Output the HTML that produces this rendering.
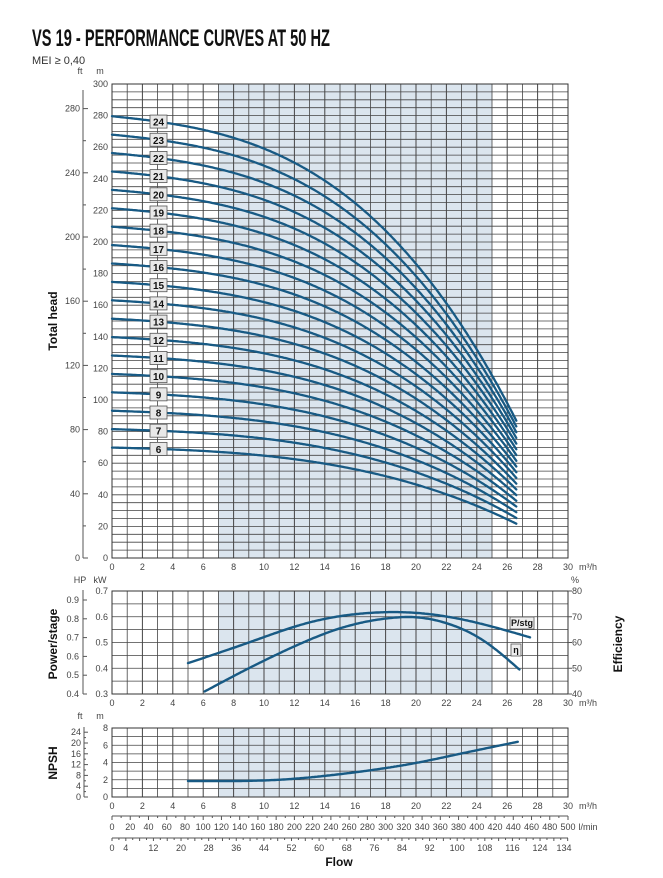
<!DOCTYPE html>
<html><head><meta charset="utf-8"><style>
body{margin:0;background:#fff;width:663px;height:878px;overflow:hidden;font-family:"Liberation Sans",sans-serif}
svg{position:absolute;left:0;top:0}
</style></head><body>
<svg id="s" width="663" height="878" viewBox="0 0 663 878" xmlns="http://www.w3.org/2000/svg" font-family="Liberation Sans, sans-serif">
<text x="32" y="46" font-size="24" font-weight="bold" fill="#111" transform="translate(32 0) scale(0.61 1) translate(-32 0)">VS 19 - PERFORMANCE CURVES AT 50 HZ</text>
<text x="32" y="64" font-size="11" fill="#333">MEI ≥ 0,40</text>
</svg>
<script>
const S=document.getElementById('s');const NS='http://www.w3.org/2000/svg';
function el(t,a,txt){const e=document.createElementNS(NS,t);for(const k in a)e.setAttribute(k,a[k]);if(txt!==undefined)e.textContent=txt;S.appendChild(e);return e;}
const X0=112,XW=456/30;const X=q=>X0+q*XW;
function grid(top,bot,rows){
 el('rect',{x:X(7),y:top,width:X(25)-X(7),height:bot-top,fill:'#dbe5ee'});
 for(let i=0;i<=30;i++)el('line',{x1:X(i),y1:top,x2:X(i),y2:bot,stroke:'#444','stroke-width':i%2?0.8:1});
 for(let j=0;j<=rows;j++){const y=top+(bot-top)*j/rows;el('line',{x1:X0,y1:y,x2:X(30),y2:y,stroke:'#444','stroke-width':0.8});}
 el('rect',{x:X0,y:top,width:456,height:bot-top,fill:'none',stroke:'#333','stroke-width':1});
}
function txt(x,y,s,o){o=o||{};return el('text',Object.assign({x:x,y:y,'font-size':9,fill:'#444','text-anchor':'middle'},o),s);}
function xlabels(y){for(let i=0;i<=30;i+=2)txt(X(i),y,i);txt(588,y,'m³/h',{'text-anchor':'middle'});}
function spline(pts){const n=pts.length,x=pts.map(p=>p[0]),y=pts.map(p=>p[1]);
 const h=[],al=[],l=[1],mu=[0],z=[0],b=[],d=[];
 for(let i=0;i<n-1;i++)h[i]=x[i+1]-x[i];
 for(let i=1;i<n-1;i++)al[i]=3/h[i]*(y[i+1]-y[i])-3/h[i-1]*(y[i]-y[i-1]);
 for(let i=1;i<n-1;i++){l[i]=2*(x[i+1]-x[i-1])-h[i-1]*mu[i-1];mu[i]=h[i]/l[i];z[i]=(al[i]-h[i-1]*z[i-1])/l[i];}
 const C=new Array(n).fill(0);for(let j=n-2;j>=1;j--)C[j]=z[j]-mu[j]*C[j+1];
 for(let j=0;j<n-1;j++){b[j]=(y[j+1]-y[j])/h[j]-h[j]*(C[j+1]+2*C[j])/3;d[j]=(C[j+1]-C[j])/(3*h[j]);}
 return q=>{let j=0;while(j<n-2&&q>x[j+1])j++;const t=q-x[j];return y[j]+b[j]*t+C[j]*t*t+d[j]*t*t*t;};}
function curve(f,q0,q1,fy,w){let d='';for(let q=q0;q<=q1+1e-6;q+=0.1){d+=(d?'L':'M')+X(q).toFixed(1)+' '+fy(f(q)).toFixed(1);}
 el('path',{d:d,fill:'none',stroke:'#185a84','stroke-width':w||2.4,'stroke-linecap':'round','stroke-linejoin':'round'});}
// MAIN
const MT=84,MB=558;grid(MT,MB,60);
const my=m=>MB-m*(MB-MT)/300;
for(let m=0;m<=300;m+=20)txt(108,my(m)+3,m,{'text-anchor':'end'});
el('line',{x1:83,y1:90,x2:83,y2:MB,stroke:'#555'});
for(let f=0;f<=280;f+=40){const y=MB-f*64.2/40;el('line',{x1:83,y1:y,x2:88,y2:y,stroke:'#555'});txt(80,y+3,f,{'text-anchor':'end'});}
for(let f=20;f<=280;f+=40){const y=MB-f*64.2/40;el('line',{x1:83,y1:y,x2:86,y2:y,stroke:'#555'});}
txt(80,74,'ft');txt(100,74,'m');xlabels(570);
el('text',{x:0,y:0,'font-size':12,'font-weight':'bold',fill:'#111','text-anchor':'middle',transform:'translate(57 321) rotate(-90)'},'Total head');
const hq=q=>11.65-(0.04*q+0.001341*q*q+0.0003197*q*q*q);
for(let n=6;n<=24;n++){
 const H=q=>n*hq(q);
 curve(H,0,26.6,my,2.3);
 const y=my(H(3));
 el('rect',{x:150,y:y-6.5,width:17,height:13,fill:'#e8e8e8',stroke:'#555','stroke-width':0.8});
 el('text',{x:158.5,y:y+4,'font-size':10,'font-weight':'bold',fill:'#111','text-anchor':'middle'},n);}
// POWER
const PT=591,PB=694;grid(PT,PB,8);
const py=k=>PB-(k-0.3)*(PB-PT)/0.4, ey=e=>PB-(e-40)*(PB-PT)/40;
for(let k=3;k<=7;k++)txt(108,py(k/10)+3,'0.'+k,{'text-anchor':'end'});
for(let e=40;e<=80;e+=10){txt(572,ey(e)+3,e,{'text-anchor':'start'});el('line',{x1:X(30),y1:ey(e),x2:X(30)+4,y2:ey(e),stroke:'#555'});}
txt(575,583,'%');txt(80,583,'HP');txt(100,583,'kW');
el('line',{x1:83,y1:590,x2:83,y2:694,stroke:'#555'});
for(let h=4;h<=9;h++){const y=694-(h-4)*18.8;el('line',{x1:83,y1:y,x2:87,y2:y,stroke:'#555'});txt(79,y+3,'0.'+h,{'text-anchor':'end'});}
el('text',{x:0,y:0,'font-size':12,'font-weight':'bold',fill:'#111','text-anchor':'middle',transform:'translate(57 644) rotate(-90)'},'Power/stage');
el('text',{x:0,y:0,'font-size':12,'font-weight':'bold',fill:'#111','text-anchor':'middle',transform:'translate(622 644) rotate(-90)'},'Efficiency');
xlabels(706);
curve(spline([[5,0.42],[9,0.5],[13,0.578],[17,0.615],[20,0.615],[23,0.59],[27.5,0.52]]),5,27.5,py);
curve(spline([[6.1,41],[9,50],[12,58.5],[15,65.5],[18,69.3],[20,69.8],[22,67.5],[24.5,60.5],[26.8,49.5]]),6.1,26.8,ey);
el('rect',{x:510,y:617,width:24,height:12,fill:'#eee',stroke:'#555','stroke-width':0.8});
el('text',{x:522,y:626,'font-size':9,'font-weight':'bold',fill:'#111','text-anchor':'middle'},'P/stg');
el('rect',{x:511,y:644,width:10,height:12,fill:'#eee',stroke:'#555','stroke-width':0.8});
el('text',{x:516,y:653,'font-size':9,'font-weight':'bold',fill:'#111','text-anchor':'middle'},'η');
// NPSH
const NT=728,NB=797;grid(NT,NB,8);
const ny=m=>NB-m*(NB-NT)/8;
for(let m=0;m<=8;m+=2)txt(108,ny(m)+3,m,{'text-anchor':'end'});
txt(80,719,'ft');txt(100,719,'m');
el('line',{x1:84,y1:727,x2:84,y2:797,stroke:'#555'});
for(let f=0;f<=24;f+=2){const y=797-f*10.8/4;el('line',{x1:84,y1:y,x2:f%4?86:88,y2:y,stroke:'#555'});if(f%4==0)txt(81,y+3,f,{'text-anchor':'end'});}
el('text',{x:0,y:0,'font-size':12,'font-weight':'bold',fill:'#111','text-anchor':'middle',transform:'translate(57 763) rotate(-90)'},'NPSH');
xlabels(809);
curve(spline([[5,1.85],[8,1.85],[11,2.0],[14,2.45],[17,3.1],[20,3.95],[23,5.05],[26.7,6.4]]),5,26.7,ny);
// l/min
el('line',{x1:X0,y1:816,x2:X(30),y2:816,stroke:'#555'});
for(let l=0;l<=500;l+=10){const x=X0+l*456/500;el('line',{x1:x,y1:816,x2:x,y2:l%20?818:820,stroke:'#555'});if(l%20==0)txt(x,830,l);}
txt(588,830,'l/min');
el('line',{x1:X0,y1:838,x2:X(30),y2:838,stroke:'#555'});
const gs=3.452;for(let g=0;g<=132;g+=2){const x=X0+g*gs;el('line',{x1:x,y1:838,x2:x,y2:g%4?840:841,stroke:'#555'});}
[0,4,12,20,28,36,44,52,60,68,76,84,92,100,108,116,124].forEach(g=>txt(X0+g*gs,851,g));txt(564,851,134);
el('text',{x:339,y:866,'font-size':12,'font-weight':'bold',fill:'#111','text-anchor':'middle'},'Flow');
</script>
</body></html>
